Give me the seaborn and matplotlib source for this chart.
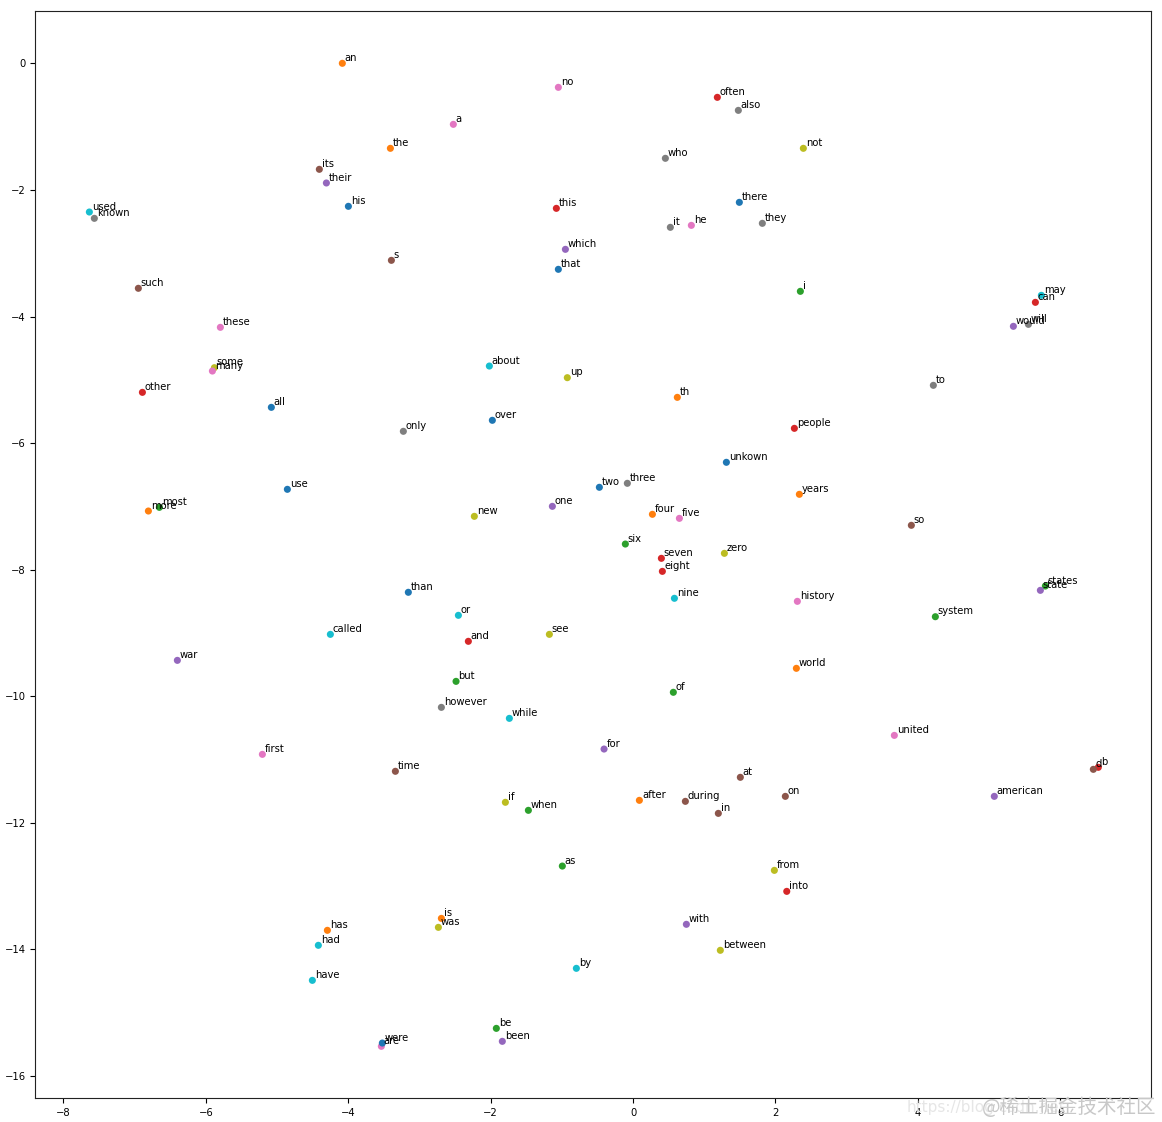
import matplotlib
matplotlib.use("Agg")
import matplotlib.pyplot as plt
import seaborn as sns
import pandas as pd

words = ["unkown", "the", "of", "and", "one", "in", "a", "to", "zero", "nine",
         "two", "is", "as", "eight", "for", "s", "five", "three", "was", "by",
         "that", "four", "six", "seven", "with", "on", "are", "it", "from", "or",
         "his", "an", "be", "this", "which", "at", "he", "also", "not", "have",
         "were", "has", "but", "other", "their", "its", "first", "they", "some", "had",
         "all", "more", "most", "can", "been", "such", "many", "who", "new", "used",
         "there", "after", "when", "into", "american", "time", "these", "only", "see", "may",
         "than", "world", "i", "b", "would", "d", "no", "however", "between", "about",
         "over", "years", "states", "people", "war", "during", "united", "known", "if", "called",
         "use", "th", "system", "often", "state", "so", "history", "will", "up", "while"]

x_vals = [1.311, -3.408, 0.566, -2.313, -1.133, 1.198, -2.524, 4.218, 1.283, 0.581,
          -0.473, -2.692, -0.993, 0.412, -0.407, -3.394, 0.651, -0.080, -2.734, -0.796,
          -1.049, 0.272, -0.108, 0.398, 0.749, 2.139, -3.535, 0.524, 1.985, -2.453,
          -3.998, -4.083, -1.920, -1.077, -0.950, 1.507, 0.819, 1.479, 2.392, -4.504,
          -3.521, -4.293, -2.486, -6.891, -4.307, -4.406, -5.206, 1.816, -5.880, -4.420,
          -5.080, -6.807, -6.653, 5.651, -1.836, -6.948, -5.908, 0.454, -2.229, -7.636,
          1.493, 0.089, -1.470, 2.159, 5.074, -3.338, -5.796, -3.226, -1.175, 5.735,
          -3.156, 2.294, 2.350, 6.535, 5.342, 6.465, -1.049, -2.692, 1.226, -2.018,
          -1.976, 2.336, 5.791, 2.266, -6.400, 0.735, 3.670, -7.566, -1.793, -4.251,
          -4.855, 0.622, 4.246, 1.184, 5.721, 3.909, 2.308, 5.553, -0.923, -1.737]

y_vals = [-6.305, -1.341, -9.941, -9.135, -7.001, -11.855, -0.962, -5.088, -7.744, -8.455,
          -6.700, -13.515, -12.688, -8.029, -10.838, -3.112, -7.191, -6.637, -13.657, -14.305,
          -3.254, -7.127, -7.597, -7.823, -13.609, -11.586, -15.538, -2.590, -12.756, -8.724,
          -2.258, 0.003, -15.254, -2.290, -2.938, -11.285, -2.559, -0.741, -1.341, -14.495,
          -15.486, -13.704, -9.768, -5.199, -1.889, -1.673, -10.922, -2.527, -4.809, -13.941,
          -5.436, -7.075, -7.017, -3.776, -15.459, -3.554, -4.862, -1.499, -7.159, -2.348,
          -2.195, -11.649, -11.807, -13.088, -11.586, -11.190, -4.171, -5.815, -9.025, -3.665,
          -8.360, -9.562, -3.602, -11.127, -4.155, -11.159, -0.377, -10.179, -14.020, -4.783,
          -5.641, -6.811, -8.261, -5.768, -9.436, -11.665, -10.622, -2.448, -11.680, -9.025,
          -6.732, -5.278, -8.746, -0.535, -8.329, -7.301, -8.503, -4.124, -4.967, -10.353]

x_ticks = [-8, -6, -4, -2, 0, 2, 4, 6]
y_ticks = [0, -2, -4, -6, -8, -10, -12, -14, -16]

plt.rcParams["font.family"] = ["DejaVu Sans"]
plt.rcParams["font.size"] = 7.2

df = pd.DataFrame({"word": words, "x": x_vals, "y": y_vals})
palette = [f"C{i % 10}" for i in range(len(words))]

fig = plt.figure(figsize=(11.62, 11.22), dpi=100)
ax = fig.add_axes([0.0304, 0.0211, 0.9599, 0.9691])
sns.scatterplot(data=df, x="x", y="y", hue="word", palette=palette,
                s=26, linewidth=0, legend=False, ax=ax)
for w, xv, yv in zip(words, x_vals, y_vals):
    ax.annotate(w, xy=(xv, yv), xytext=(1.8, 0.3), textcoords="offset points",
                ha="left", va="bottom", fontsize=7.2, color="black")

ax.set_xlim(-8.395, 7.271)
ax.set_ylim(-16.36, 0.83)
ax.set_xticks(x_ticks)
ax.set_yticks(y_ticks)
ax.tick_params(labelsize=7.2)
ax.set_xlabel("")
ax.set_ylabel("")
for sp in ax.spines.values():
    sp.set_color("#222222")

fig.text(0.78, 0.006, "https://blog.csdn.net", fontsize=11, color="#e6e6e6",
         ha="left", va="bottom")
fig.text(0.995, 0.004, "@稀土掘金技术社区", fontsize=14, color="#c8c8c8",
         ha="right", va="bottom", family=["Noto Sans CJK SC", "DejaVu Sans"])

fig.savefig("out.png", dpi=100)
